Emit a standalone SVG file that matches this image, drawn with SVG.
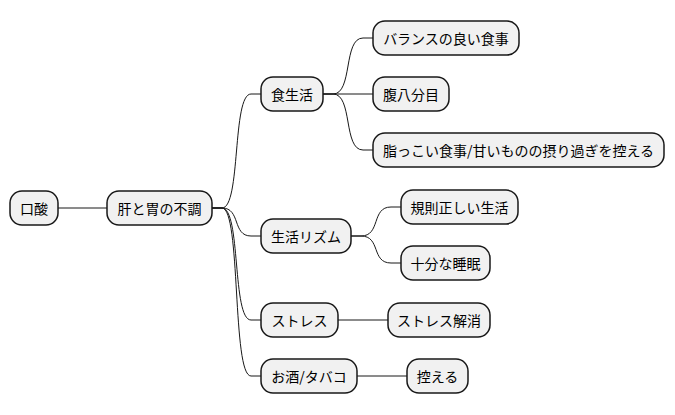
<svg xmlns="http://www.w3.org/2000/svg" width="675" height="415" viewBox="0 0 675 415">
<style>
.n rect{fill:#F1F1F1;stroke:#181818;stroke-width:1.5}
.n text{font-family:"Noto Sans CJK JP","Noto Sans",sans-serif;font-size:14px;fill:#000;text-anchor:middle;dominant-baseline:central}
.c path{fill:none;stroke:#181818;stroke-width:1}
</style>
<rect width="675" height="415" fill="#FFFFFF"/>
<g class="c">
<path d="M58,208 L107,208"/>
<path d="M212,208 L222,208 C241,208 232,94 251,94 L261,94"/>
<path d="M212,208 L222,208 C241,208 232,236 251,236 L261,236"/>
<path d="M212,208 L222,208 C241,208 232,320 251,320 L261,320"/>
<path d="M212,208 L222,208 C241,208 232,376 251,376 L261,376"/>
<path d="M323,94 L333,94 C353,94 343,38 363,38 L373,38"/>
<path d="M323,94 L373,94"/>
<path d="M323,94 L333,94 C353,94 343,150 363,150 L373,150"/>
<path d="M351,236 L361,236 C381,236 371,207 391,207 L401,207"/>
<path d="M351,236 L361,236 C381,236 371,263 391,263 L401,263"/>
<path d="M338,320 L388,320"/>
<path d="M357,376 L407,376"/>
</g>
<g id="n1" class="n"><rect x="10" y="191" width="48" height="34" rx="12" ry="12"/><text x="34" y="208">口酸</text></g>
<g id="n2" class="n"><rect x="107" y="191" width="105" height="34" rx="12" ry="12"/><text x="159.5" y="208">肝と胃の不調</text></g>
<g id="n3" class="n"><rect x="261" y="77" width="62" height="34" rx="12" ry="12"/><text x="292" y="94">食生活</text></g>
<g id="n4" class="n"><rect x="373" y="21" width="146" height="34" rx="12" ry="12"/><text x="446" y="38">バランスの良い食事</text></g>
<g id="n5" class="n"><rect x="373" y="77" width="76" height="34" rx="12" ry="12"/><text x="411" y="94">腹八分目</text></g>
<g id="n6" class="n"><rect x="373" y="133" width="291" height="34" rx="12" ry="12"/><text x="518.5" y="150">脂っこい食事/甘いものの摂り過ぎを控える</text></g>
<g id="n7" class="n"><rect x="261" y="219" width="90" height="34" rx="12" ry="12"/><text x="306" y="236">生活リズム</text></g>
<g id="n8" class="n"><rect x="401" y="190" width="117" height="34" rx="12" ry="12"/><text x="459.5" y="207">規則正しい生活</text></g>
<g id="n9" class="n"><rect x="401" y="246" width="89" height="34" rx="12" ry="12"/><text x="445.5" y="263">十分な睡眠</text></g>
<g id="n10" class="n"><rect x="261" y="303" width="77" height="34" rx="12" ry="12"/><text x="299.5" y="320">ストレス</text></g>
<g id="n11" class="n"><rect x="388" y="303" width="102" height="34" rx="12" ry="12"/><text x="439" y="320">ストレス解消</text></g>
<g id="n12" class="n"><rect x="261" y="359" width="96" height="34" rx="12" ry="12"/><text x="309" y="376">お酒/タバコ</text></g>
<g id="n13" class="n"><rect x="407" y="359" width="61" height="34" rx="12" ry="12"/><text x="437.5" y="376">控える</text></g>
</svg>
